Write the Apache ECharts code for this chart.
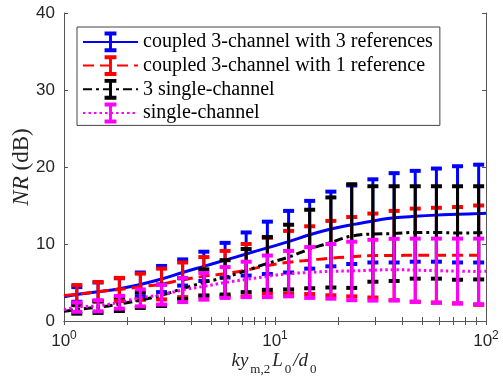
<!DOCTYPE html>
<html>
<head>
<meta charset="utf-8">
<script src="https://cdn.jsdelivr.net/npm/echarts@6/dist/echarts.min.js"></script>
<style>html,body{margin:0;padding:0;background:#fff;}#c{width:503px;height:392px;}</style>
</head>
<body>
<div id="c"></div>
<script>
// x positions of the error bars (ky_m,2 L0/d0)
var xPos = [1.15,1.45,1.83,2.3,2.9,3.65,4.6,5.8,7.3,9.2,11.6,14.6,18.4,23.1,29.1,36.7,46.2,58.2,73.3,92.3];

var seriesNames = ['coupled 3-channel with 3 references','coupled 3-channel with 1 reference','3 single-channel','single-channel'];

// mean NR (dB) at each x position
var blueMean  = [3.45,3.8,4.2,4.75,5.45,6.3,7.1,7.9,8.7,9.5,10.3,11.2,11.95,12.5,13.0,13.4,13.6,13.75,13.85,13.95];
var redMean   = [3.47,3.8,4.1,4.45,4.8,5.35,5.8,6.15,6.6,7.2,7.63,7.9,8.17,8.35,8.5,8.5,8.55,8.55,8.55,8.55];
var blackMean = [1.5,1.8,2.2,2.7,3.35,4.2,5.0,5.67,6.55,7.48,8.3,9.35,10.2,11.03,11.3,11.35,11.5,11.5,11.43,11.45];
var magMean   = [1.8,1.98,2.43,3.0,3.42,4.03,4.5,5.0,5.4,5.8,6.15,6.3,6.45,6.5,6.6,6.67,6.6,6.53,6.48,6.44];

// half-length of error bars
var blueErr  = [0.95,1.2,1.35,1.55,1.7,1.7,1.9,2.25,2.8,3.4,4.0,4.4,4.85,5.1,5.4,5.8,5.9,6.05,6.25,6.35];
var redErr   = [1.2,1.27,1.5,1.7,2.0,2.25,2.5,2.95,3.4,3.6,4.07,4.4,4.83,5.15,5.45,5.8,6.05,6.15,6.25,6.45];
var blackErr = [0.55,0.75,0.9,1.0,1.4,1.35,1.7,2.23,2.8,3.43,4.2,5.1,5.85,6.73,6.2,6.15,6.0,6.0,6.07,6.05];
var magErr   = [0.6,0.72,0.83,1.1,1.28,1.57,1.73,2.0,2.3,2.7,2.95,3.3,3.55,3.8,3.95,4.0,4.1,4.17,4.22,4.26];

// curve end values at x = 1 and x = 100
var lineStart = [3.15,3.3,1.25,1.45];
var lineEnd   = [14.0,8.55,11.45,6.45];

var yTicks = [0,10,20,30,40];
var xMinorTicks = [1,2,3,4,5,6,7,8,9,10,20,30,40,50,60,70,80,90,100];

var colors = ['#0000ff','#ff0000','#000000','#ff00ff'];
var dashTypes = ['solid',[11,6],[9,4,3,4],[2.5,3]];
var means = [blueMean, redMean, blackMean, magMean];
var errs = [blueErr, redErr, blackErr, magErr];

var ibeam = 'path://M0 0M20 20M4.3 0H15.7V3.8H11.4V16.2H15.7V20H4.3V16.2H8.6V3.8H4.3Z';

function errRender(color){
  return function(params, api){
    var x = api.value(0), m = api.value(1), h = api.value(2);
    var t = api.coord([x, m + h]), b = api.coord([x, m - h]);
    var cw = 11;
    return {type:'group', children:[
      {type:'line', shape:{x1:t[0], y1:t[1], x2:b[0], y2:b[1]}, style:{stroke:color, lineWidth:3}},
      {type:'line', shape:{x1:t[0]-cw/2, y1:t[1], x2:t[0]+cw/2, y2:t[1]}, style:{stroke:color, lineWidth:4}},
      {type:'line', shape:{x1:b[0]-cw/2, y1:b[1], x2:b[0]+cw/2, y2:b[1]}, style:{stroke:color, lineWidth:4}}
    ]};
  };
}

var series = [];
for (var s = 0; s < 4; s++){
  var ebData = xPos.map(function(x, i){ return [x, means[s][i], errs[s][i]]; });
  series.push({
    type:'custom', name:'eb'+s, renderItem: errRender(colors[s]), data: ebData,
    encode:{x:0, y:1}, z: 2 + s*2, silent:true, clip:false
  });
  var lineData = [[1, lineStart[s]]].concat(xPos.map(function(x, i){ return [x, means[s][i]]; })).concat([[100, lineEnd[s]]]);
  series.push({
    type:'line', name: seriesNames[s], data: lineData, smooth:0.4, showSymbol:false,
    symbol: ibeam, color: colors[s], z: 3 + s*2,
    lineStyle:{color: colors[s], width:3, type: dashTypes[s]},
    itemStyle:{color: colors[s]}, animation:false
  });
}

var axisColor = '#555';
var serif = 'Liberation Serif';
var sans = 'Liberation Sans';

var chart = echarts.init(document.getElementById('c'), null, {renderer:'canvas'});
chart.setOption({
  animation:false,
  backgroundColor:'#fff',
  grid:{left:64, right:17, top:13, bottom:71, containLabel:false, outerBoundsMode:'none'},
  legend:{
    data: seriesNames, orient:'vertical', left:77, top:27,
    itemWidth:55, itemHeight:26, itemGap:2.9,
    padding:[4.5,7,2,5], borderColor:'#444', borderWidth:1, backgroundColor:'#fff',
    textStyle:{fontFamily:serif, fontSize:20, color:'#000'},
    selectedMode:false
  },
  xAxis:[{
    type:'log', logBase:10, min:1, max:100, position:'bottom',
    axisLine:{show:true, lineStyle:{color:axisColor, width:1}},
    axisTick:{show:true, inside:true, length:4, customValues: xMinorTicks, lineStyle:{color:axisColor}},
    splitLine:{show:false}, minorTick:{show:false},
    axisLabel:{
      margin:9, color:'#262626',
      formatter:function(v){ return '{n|10}{s|' + Math.round(Math.log10(v)) + '}'; },
      rich:{
        n:{fontFamily:sans, fontSize:17, color:'#262626', lineHeight:20, padding:[2,0,0,0], verticalAlign:'bottom'},
        s:{fontFamily:sans, fontSize:12, color:'#262626', lineHeight:12, verticalAlign:'top'}
      }
    },
    name:'{i|ky}{s|m,2}{i|L}{s|0}{i|/d}{s|0}',
    nameLocation:'middle', nameGap:30, nameMoveOverlap:false,
    nameTextStyle:{
      rich:{
        i:{fontFamily:serif, fontStyle:'italic', fontSize:19, color:'#262626', lineHeight:20, verticalAlign:'top'},
        s:{fontFamily:serif, fontSize:13, color:'#262626', lineHeight:14, padding:[12,2,0,2], verticalAlign:'top'}
      }
    }
  },{
    type:'log', logBase:10, min:1, max:100, position:'top',
    axisLine:{show:true, lineStyle:{color:axisColor, width:1}},
    axisTick:{show:true, inside:true, length:4, customValues: xMinorTicks, lineStyle:{color:axisColor}},
    axisLabel:{show:false}, splitLine:{show:false}
  }],
  yAxis:[{
    type:'value', min:0, max:40, interval:10, position:'left',
    axisLine:{show:true, lineStyle:{color:axisColor, width:1}},
    axisTick:{show:true, inside:true, length:4, lineStyle:{color:axisColor}},
    splitLine:{show:false},
    axisLabel:{margin:9, fontFamily:sans, fontSize:17, color:'#262626', customValues: yTicks},
    name:'{i|NR} (dB)', nameLocation:'middle', nameGap:31, nameRotate:90, nameMoveOverlap:false,
    nameTextStyle:{fontFamily:serif, fontSize:23, color:'#262626',
      rich:{i:{fontFamily:serif, fontStyle:'italic', fontSize:23, color:'#262626'}}}
  },{
    type:'value', min:0, max:40, interval:10, position:'right',
    axisLine:{show:true, lineStyle:{color:axisColor, width:1}},
    axisTick:{show:true, inside:true, length:4, lineStyle:{color:axisColor}},
    axisLabel:{show:false}, splitLine:{show:false}
  }],
  series: series
});
</script>
</body>
</html>
